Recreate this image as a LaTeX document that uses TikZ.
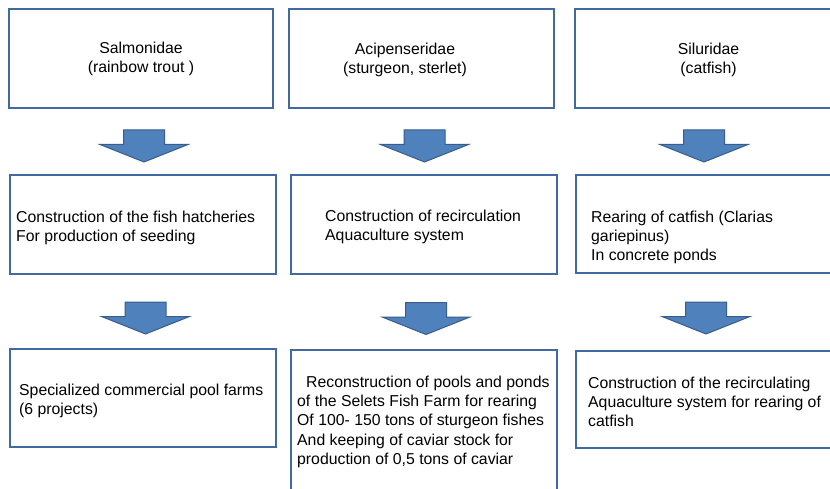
\documentclass[tikz,border=0pt]{standalone}
\usepackage{fontspec}
\setmainfont{Liberation Sans}
\usetikzlibrary{fit}
\definecolor{boxline}{RGB}{65,106,160}
\definecolor{arrowfill}{RGB}{79,129,189}
\definecolor{arrowline}{RGB}{56,93,138}
\tikzset{
  box/.style={draw=boxline, line width=1.8pt, fill=white, inner sep=0pt},
  lbl/.style={inner sep=0pt, anchor=north west, align=left, font=\fontsize{15.8}{19.3}\selectfont},
  clbl/.style={inner sep=0pt, anchor=north, align=center, font=\fontsize{15.8}{19.3}\selectfont},
  blockarrow/.style={fill=arrowfill, draw=arrowline, line width=1pt, line join=miter},
  pics/downarrow/.style={code={
    \draw[blockarrow] (-20.5,0) -- (20.5,0) -- (20.5,14.5) -- (44,14.5) -- (0,32)
      -- (-44,14.5) -- (-20.5,14.5) -- cycle;}}
}
\begin{document}
\begin{tikzpicture}[x=1pt,y=-1pt]
\useasboundingbox (0,0) rectangle (830,489);
\fill[white] (0,0) rectangle (830,489);
\clip (0,0) rectangle (830,489);
% boxes
\node[box, fit={(9,9) (273,108)}] (t1) {};
\node[box, fit={(289,9) (554,108)}] (t2) {};
\node[box, fit={(575,9) (842,108)}] (t3) {};
\node[box, fit={(10,175) (276,274)}] (m1) {};
\node[box, fit={(291,175) (557,274)}] (m2) {};
\node[box, fit={(576,175) (842,273)}] (m3) {};
\node[box, fit={(10,349) (276,447)}] (b1) {};
\node[box, fit={(291,350) (557,500)}] (b2) {};
\node[box, fit={(576,351) (842,448)}] (b3) {};
% texts
\node[clbl] (t1txt) at (141,39.5) {\strut Salmonidae\\(rainbow trout )};
\node[clbl] (t2txt) at (405,40.5) {\strut Acipenseridae\\(sturgeon, sterlet)};
\node[clbl] (t3txt) at (708.5,40.5) {\strut Siluridae\\(catfish)};
\node[lbl] (m1txt) at (16,208.5) {\strut Construction of the fish hatcheries\\For production of seeding};
\node[lbl] (m2txt) at (325,207.5) {\strut Construction of recirculation\\Aquaculture system};
\node[lbl] (m3txt) at (591,208.5) {\strut Rearing of catfish (Clarias\\gariepinus)\\In concrete ponds};
\node[lbl] (b1txt) at (19,381.5) {\strut Specialized commercial pool farms\\(6 projects)};
\node[lbl] (b2txt) at (297,373.5) {\strut\hspace{9pt}Reconstruction of pools and ponds\\of the Selets Fish Farm for rearing\\Of 100- 150 tons of sturgeon fishes\\And keeping of caviar stock for\\production of 0,5 tons of caviar};
\node[lbl] (b3txt) at (588,374.5) {\strut Construction of the recirculating\\Aquaculture system for rearing of\\catfish};
% block arrows
\pic at (144,130) {downarrow};
\pic at (424.5,130) {downarrow};
\pic at (704,130) {downarrow};
\pic at (145.5,302) {downarrow};
\pic at (426,302.5) {downarrow};
\pic at (706,302) {downarrow};
\end{tikzpicture}
\end{document}
